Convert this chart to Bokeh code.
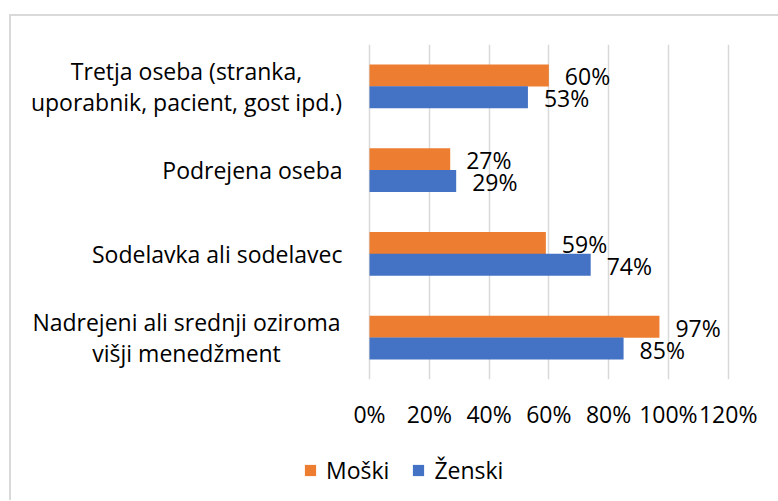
from bokeh.plotting import figure
from bokeh.layouts import column
from bokeh.models import (ColumnDataSource, FactorRange, Range1d, FixedTicker,
                          Legend, LegendItem)
from bokeh.transform import dodge
from bokeh.core.properties import value
from bokeh.embed import file_html
from bokeh.resources import INLINE

# ---- data ----
categories = [
    "Nadrejeni ali srednji oziroma\nvišji menedžment",
    "Sodelavka ali sodelavec",
    "Podrejena oseba",
    "Tretja oseba (stranka,\nuporabnik, pacient, gost ipd.)",
]
moski = [97, 59, 27, 60]
zenski = [85, 74, 29, 53]
series_names = ["Moški", "Ženski"]
x_ticks = [0, 20, 40, 60, 80, 100, 120]
x_tick_labels = ["0%", "20%", "40%", "60%", "80%", "100%", "120%"]

# ---- layout constants (pixels) ----
W = 778
H_MAIN = 448
H_LEG = 52
TOP = 44
BOTTOM_Y = 379
ZERO_PX = 369.0                      # canvas x of 0 %
PX_PER_PCT = (727.7 - 369.0) / 120.0
FONT = "Open Sans"
FS = "23px"
ORANGE = "#ED7D31"
BLUE = "#4472C4"
GRID = "#D9D9D9"

x0 = -ZERO_PX / PX_PER_PCT
x1 = (W - ZERO_PX) / PX_PER_PCT

keys = ["c0", "c1", "c2", "c3"]

src = ColumnDataSource(dict(
    cat=keys,
    moski=moski,
    zenski=zenski,
    moski_lbl=[f"{v}%" for v in moski],
    zenski_lbl=[f"{v}%" for v in zenski],
))

p = figure(width=W, height=H_MAIN, x_range=Range1d(x0, x1),
           y_range=FactorRange(factors=keys, range_padding=0),
           y_axis_location=None, x_axis_location="below",
           toolbar_location=None, output_backend="svg",
           min_border_left=0, min_border_right=0,
           min_border_top=TOP, min_border_bottom=H_MAIN - BOTTOM_Y)
p.outline_line_color = None
p.background_fill_alpha = 0
p.border_fill_alpha = 0

# grid
p.ygrid.visible = False
p.xgrid.ticker = FixedTicker(ticks=x_ticks)
p.xgrid.grid_line_color = GRID
p.xgrid.grid_line_width = 1.5

# x axis
ax = p.xaxis[0]
ax.ticker = FixedTicker(ticks=x_ticks)
ax.major_label_overrides = {t: l for t, l in zip(x_ticks, x_tick_labels)}
ax.axis_line_color = None
ax.major_tick_line_color = None
ax.minor_tick_line_color = None
ax.major_tick_out = 0
ax.major_tick_in = 0
ax.major_label_standoff = 18
ax.major_label_text_font = FONT
ax.major_label_text_font_size = FS
ax.major_label_text_color = "black"

OFF = 0.131
BH = 0.263
r_m = p.hbar(y=dodge("cat", OFF, range=p.y_range), left=0, right="moski",
             height=BH, fill_color=ORANGE, line_color=None, source=src)
r_z = p.hbar(y=dodge("cat", -OFF, range=p.y_range), left=0, right="zenski",
             height=BH, fill_color=BLUE, line_color=None, source=src)

for col, off in (("moski", OFF), ("zenski", -OFF)):
    p.text(x=col, y=dodge("cat", off, range=p.y_range), text=col + "_lbl",
           x_offset=16, y_offset=1, text_align="left", text_baseline="middle",
           text_font=value(FONT), text_font_size=FS, text_color="black",
           source=src)

# category labels
single_k = [k for k, c in zip(keys, categories) if "\n" not in c]
single_t = [c for c in categories if "\n" not in c]
multi_k = [k for k, c in zip(keys, categories) if "\n" in c]
multi_t = [c for c in categories if "\n" in c]
p.text(x=[0] * len(single_k), y=single_k, text=single_t, x_offset=-27,
       text_align="right", text_baseline="middle", text_font=value(FONT),
       text_font_size=FS, text_color="black")
p.text(x=[0] * len(multi_k), y=multi_k, text=multi_t, x_offset=-183,
       text_align="center", text_baseline="middle", text_font=value(FONT),
       text_font_size=FS, text_color="black", text_line_height=0.98)

# ---- legend figure ----
q = figure(width=W, height=H_LEG, x_range=Range1d(0, 1), y_range=Range1d(0, 1),
           x_axis_location=None, y_axis_location=None,
           toolbar_location=None, output_backend="svg",
           min_border_left=0, min_border_right=0,
           min_border_top=0, min_border_bottom=0)
q.outline_line_color = None
q.background_fill_alpha = 0
q.border_fill_alpha = 0
q.grid.visible = False
l_m = q.hbar(y=[-5], left=[0], right=[1], height=0.1, fill_color=ORANGE,
             line_color=None)
l_z = q.hbar(y=[-5], left=[0], right=[1], height=0.1, fill_color=BLUE,
             line_color=None)
legend = Legend(items=[LegendItem(label=series_names[0], renderers=[l_m]),
                       LegendItem(label=series_names[1], renderers=[l_z])],
                orientation="horizontal", location=(303, 14),
                border_line_color=None, background_fill_alpha=0,
                label_text_font=FONT, label_text_font_size=FS,
                label_text_color="black",
                glyph_width=14, glyph_height=14, label_standoff=9,
                spacing=22, padding=0, margin=0)
q.add_layout(legend)

# chart border: only its top and left edges fall inside the picture
border_css = (f"linear-gradient({GRID}, {GRID}) 9px 14px / 2px 2000px no-repeat, "
              f"linear-gradient({GRID}, {GRID}) 9px 14px / 2000px 2px no-repeat")
layout = column(p, q, spacing=0, styles={"background": border_css})
open("out.html", "w").write(file_html(layout, INLINE))
